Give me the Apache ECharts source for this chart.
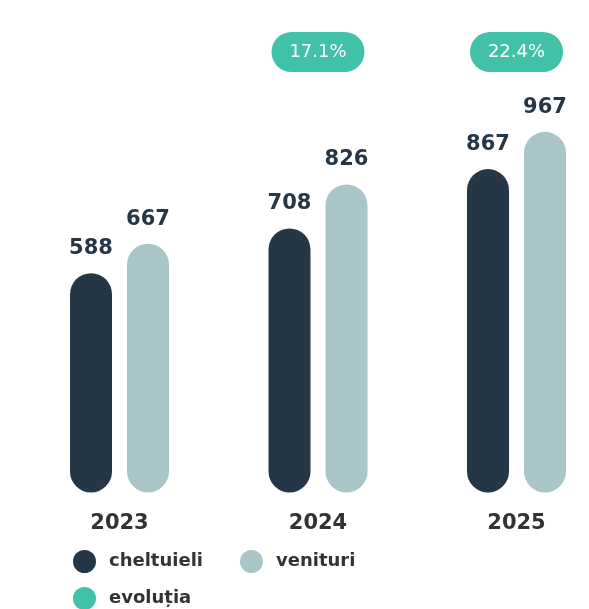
<!DOCTYPE html>
<html>
<head>
<meta charset="utf-8">
<script src="https://cdn.jsdelivr.net/npm/echarts@6/dist/echarts.min.js"></script>
<style>
  html, body { margin: 0; padding: 0; background: #ffffff; }
  #chart { width: 589px; height: 609px; }
</style>
</head>
<body>
<div id="chart"></div>
<script>
// Budget figures per year
const years = ['2023', '2024', '2025'];
const cheltuieli = [588, 708, 867];
const venituri = [667, 826, 967];
// Growth shown in the pill above each year (none for the first year)
const evolutie = [null, 17.1, 22.4];

const COL_DARK = '#253746';
const COL_LIGHT = '#aac5c8';
const COL_TEAL = '#41c1a7';
const FONT = 'DejaVu Sans';

const pillData = [];
years.forEach(function (y, i) {
  if (evolutie[i] != null) pillData.push({ value: [y, 1], pct: evolutie[i] });
});

const chart = echarts.init(document.getElementById('chart'), null, { renderer: 'canvas' });

chart.setOption({
  animation: false,
  backgroundColor: '#ffffff',
  textStyle: { fontFamily: FONT },
  grid: { left: 20.25, width: 595.5, top: 52, bottom: 116.5, outerBoundsMode: 'none' },
  legend: [
    {
      data: ['cheltuieli', 'venituri'],
      left: 68, top: 545,
      icon: 'circle', itemWidth: 23, itemHeight: 23, itemGap: 37,
      textStyle: { fontFamily: FONT, fontSize: 18, fontWeight: 'bold', color: '#333333', padding: [0, 0, 0, 8] }
    },
    {
      data: ['evoluția'],
      left: 68, top: 582,
      icon: 'circle', itemWidth: 23, itemHeight: 23,
      textStyle: { fontFamily: FONT, fontSize: 18, fontWeight: 'bold', color: '#333333', padding: [0, 0, 0, 8] }
    }
  ],
  xAxis: {
    type: 'category',
    data: years,
    boundaryGap: true,
    axisLine: { show: false },
    axisTick: { show: false },
    axisLabel: { margin: 21, fontFamily: FONT, fontSize: 21, fontWeight: 'bold', color: '#333333' }
  },
  yAxis: [
    { type: 'value', min: 0, max: 1181, show: false, splitLine: { show: false } },
    { type: 'value', min: 0, max: 1, show: false, splitLine: { show: false } }
  ],
  series: [
    {
      name: 'cheltuieli',
      type: 'bar',
      data: cheltuieli,
      barWidth: 42,
      barGap: '35.7%',
      itemStyle: { color: COL_DARK, borderRadius: 21 },
      label: { show: true, position: 'top', distance: 14, fontFamily: FONT, fontSize: 21, fontWeight: 'bold', color: COL_DARK }
    },
    {
      name: 'venituri',
      type: 'bar',
      data: venituri,
      barWidth: 42,
      itemStyle: { color: COL_LIGHT, borderRadius: 21 },
      label: { show: true, position: 'top', distance: 14, fontFamily: FONT, fontSize: 21, fontWeight: 'bold', color: COL_DARK }
    },
    {
      name: 'evoluția',
      type: 'scatter',
      yAxisIndex: 1,
      clip: false,
      data: pillData,
      symbol: 'path://M20,0 H73 A20,20 0 0 1 73,40 H20 A20,20 0 0 1 20,0 Z',
      symbolSize: [93, 40],
      itemStyle: { color: COL_TEAL, opacity: 1 },
      label: {
        show: true, position: 'inside',
        fontFamily: FONT, fontSize: 18, color: '#ffffff',
        formatter: function (p) { return p.data.pct.toFixed(1) + '%'; }
      }
    }
  ]
});
</script>
</body>
</html>
